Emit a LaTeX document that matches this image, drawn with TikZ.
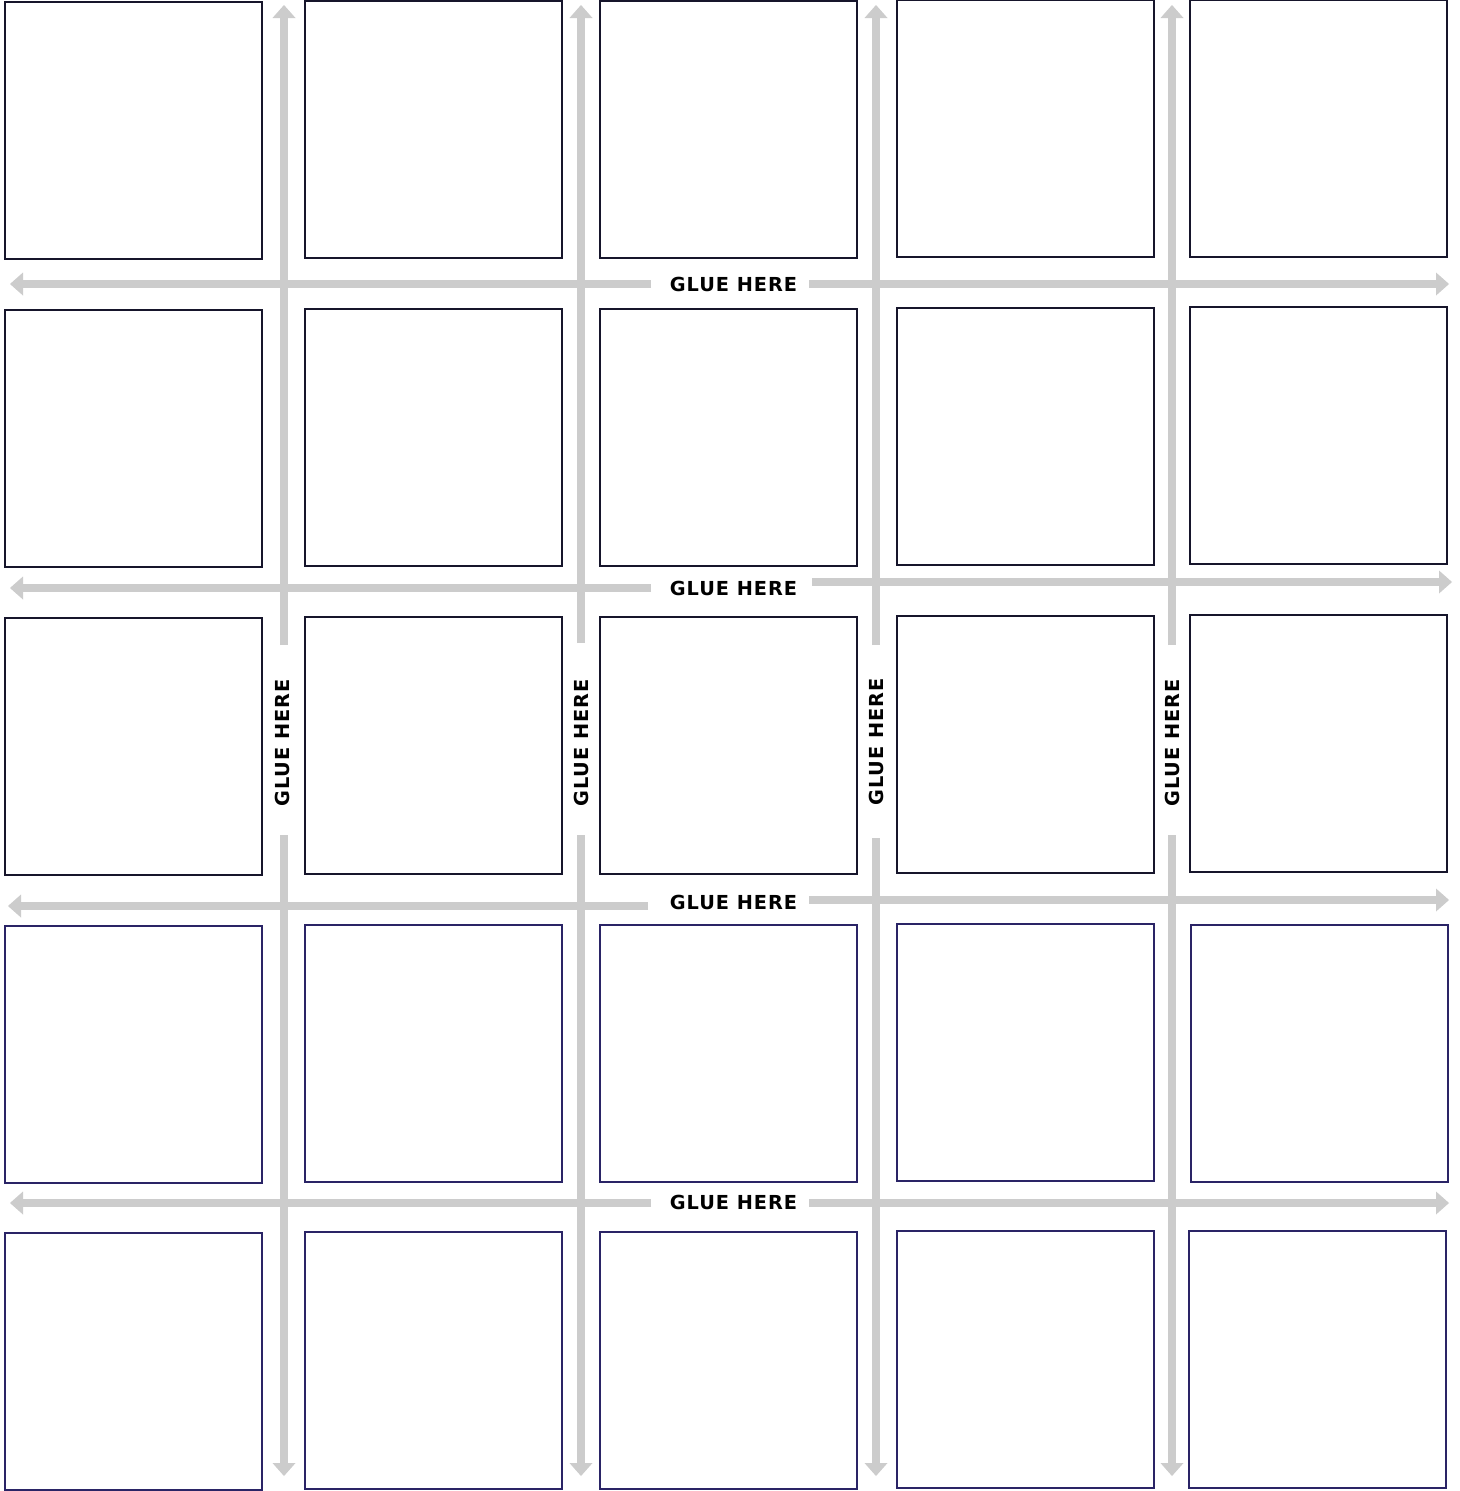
\documentclass[tikz,border=0pt]{standalone}
\usepackage{fontspec}
\setmainfont{DejaVu Sans}
\usetikzlibrary{arrows.meta}
\definecolor{boxdark}{HTML}{16152B}
\definecolor{boxnavy}{HTML}{2A2466}
\definecolor{gluegrey}{HTML}{CCCCCC}
\begin{document}
\begin{tikzpicture}[x=1pt,y=-1pt,
  tile/.style={draw=boxdark,line width=2.2pt,fill=white,inner sep=0pt,minimum width=257pt,minimum height=257pt},
  tilenavy/.style={tile,draw=boxnavy},
  gluearrow/.style={draw=gluegrey,line width=8pt,-{Triangle[length=13pt,width=23pt,line width=0pt]}},
  gluetext/.style={font=\bfseries\fontsize{19.3}{19.3}\selectfont\addfontfeature{LetterSpace=5},inner sep=0pt,text=black}]
\useasboundingbox (0,0) rectangle (1459,1491);
\fill[white] (0,0) rectangle (1459,1491);
% coordinates for arrow ends
\foreach \n/\x/\ta/\ba in {1/284/645/835, 2/581/643/835, 3/876/645/838, 4/1172/645/835}{
  \coordinate (vt\n s) at (\x,\ta);
  \coordinate (vt\n e) at (\x,5);
  \coordinate (vb\n s) at (\x,\ba);
  \coordinate (vb\n e) at (\x,1476);
}
\coordinate (h1ls) at (651,284); \coordinate (h1le) at (10,284);
\coordinate (h1rs) at (809,284); \coordinate (h1re) at (1449,284);
\coordinate (h2ls) at (651,588); \coordinate (h2le) at (10,588);
\coordinate (h2rs) at (812,582); \coordinate (h2re) at (1452,582);
\coordinate (h3ls) at (648,906); \coordinate (h3le) at (8,906);
\coordinate (h3rs) at (809,900); \coordinate (h3re) at (1449,900);
\coordinate (h4ls) at (651,1203); \coordinate (h4le) at (10,1203);
\coordinate (h4rs) at (809,1203); \coordinate (h4re) at (1449,1203);
% arrows
\foreach \n in {1,2,3,4}{
  \draw[gluearrow] (h\n ls) -- (h\n le);
  \draw[gluearrow] (h\n rs) -- (h\n re);
}
\foreach \n in {1,2,3,4}{
  \draw[gluearrow] (vt\n s) -- (vt\n e);
  \draw[gluearrow] (vb\n s) -- (vb\n e);
}
% tiles
\node[tile] (t11) at (133.5,130.5) {};
\node[tile] (t12) at (433.5,129.5) {};
\node[tile] (t13) at (728.5,129.5) {};
\node[tile] (t14) at (1025.5,128.5) {};
\node[tile] (t15) at (1318.5,128.5) {};
\node[tile] (t21) at (133.5,438.5) {};
\node[tile] (t22) at (433.5,437.5) {};
\node[tile] (t23) at (728.5,437.5) {};
\node[tile] (t24) at (1025.5,436.5) {};
\node[tile] (t25) at (1318.5,435.5) {};
\node[tile] (t31) at (133.5,746.5) {};
\node[tile] (t32) at (433.5,745.5) {};
\node[tile] (t33) at (728.5,745.5) {};
\node[tile] (t34) at (1025.5,744.5) {};
\node[tile] (t35) at (1318.5,743.5) {};
\node[tilenavy] (t41) at (133.5,1054.5) {};
\node[tilenavy] (t42) at (433.5,1053.5) {};
\node[tilenavy] (t43) at (728.5,1053.5) {};
\node[tilenavy] (t44) at (1025.5,1052.5) {};
\node[tilenavy] (t45) at (1319.5,1053.5) {};
\node[tilenavy] (t51) at (133.5,1361.5) {};
\node[tilenavy] (t52) at (433.5,1360.5) {};
\node[tilenavy] (t53) at (728.5,1360.5) {};
\node[tilenavy] (t54) at (1025.5,1359.5) {};
\node[tilenavy] (t55) at (1317.5,1359.5) {};
% labels
\node[gluetext] (g1) at (733.5,284) {GLUE HERE};
\node[gluetext] (g2) at (733.5,588) {GLUE HERE};
\node[gluetext] (g3) at (733.5,902) {GLUE HERE};
\node[gluetext] (g4) at (733.5,1202) {GLUE HERE};
\node[gluetext,rotate=90] (v1) at (282,743) {GLUE HERE};
\node[gluetext,rotate=90] (v2) at (581,743) {GLUE HERE};
\node[gluetext,rotate=90] (v3) at (876,742) {GLUE HERE};
\node[gluetext,rotate=90] (v4) at (1172,743) {GLUE HERE};
\end{tikzpicture}
\end{document}
